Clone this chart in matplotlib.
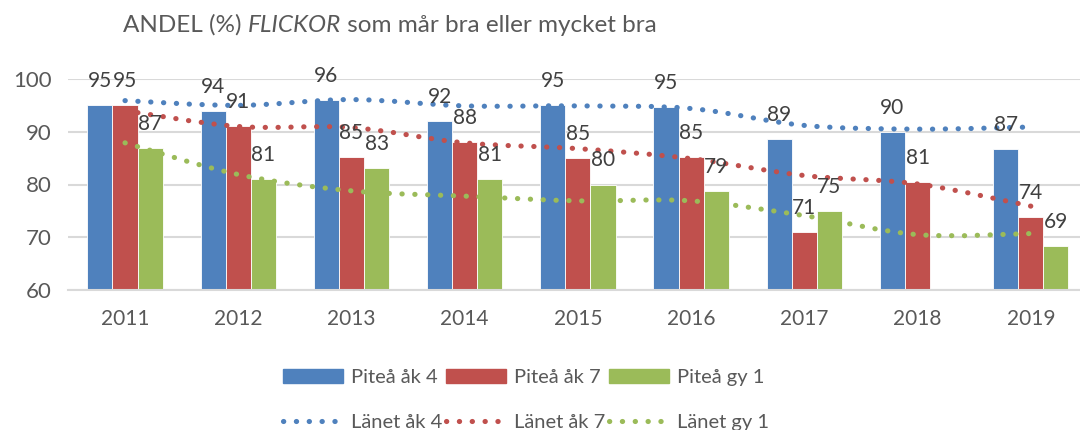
import numpy as np
import matplotlib.pyplot as plt
from matplotlib.path import Path
from matplotlib.patches import PathPatch, Patch
from matplotlib.lines import Line2D
from matplotlib.offsetbox import TextArea, HPacker, AnchoredOffsetbox

plt.rcParams['font.family'] = ['Lato', 'DejaVu Sans']

years = ["2011", "2012", "2013", "2014", "2015", "2016", "2017", "2018", "2019"]

# bar series (Piteå)
pitea_ak4 = [95, 94, 96, 92, 95, 94.7, 88.7, 90, 86.7]
pitea_ak7 = [95, 91, 85.3, 88, 85, 85.3, 71, 80.5, 73.8]
pitea_gy1 = [87, 81, 83.2, 81, 80, 78.7, 74.9, np.nan, 68.4]
lbl_ak4 = ["95", "94", "96", "92", "95", "95", "89", "90", "87"]
lbl_ak7 = ["95", "91", "85", "88", "85", "85", "71", "81", "74"]
lbl_gy1 = ["87", "81", "83", "81", "80", "79", "75", "", "69"]

# county trend lines (Länet)
lanet_ak4 = [95.9, 95.0, 96.1, 94.9, 94.9, 94.4, 91.2, 90.5, 90.9]
lanet_ak7 = [94.0, 91.0, 90.8, 87.9, 86.8, 84.9, 81.7, 80.1, 75.9]
lanet_gy1 = [87.9, 81.9, 78.8, 77.8, 76.9, 76.9, 74.1, 70.5, 70.7]

BLUE, RED, GREEN = "#4F81BD", "#C0504D", "#9BBB59"
TXT = "#595959"


def smooth_path(xs, ys):
    # Excel-like smoothed line: cubic bezier segments, catmull-rom tangents
    pts = np.column_stack([xs, ys])
    verts = [pts[0]]
    codes = [Path.MOVETO]
    n = len(pts)
    for i in range(n - 1):
        p0 = pts[i - 1] if i > 0 else pts[i]
        p1, p2 = pts[i], pts[i + 1]
        p3 = pts[i + 2] if i + 2 < n else pts[i + 1]
        c1 = p1 + (p2 - p0) / 6.0
        c2 = p2 - (p3 - p1) / 6.0
        verts += [c1, c2, p2]
        codes += [Path.CURVE4] * 3
    return Path(verts, codes)


fig = plt.figure(figsize=(10.8, 4.3), dpi=100)
ax = fig.add_axes([68.4 / 1080, 1 - 290 / 430, 1019 / 1080, 211 / 430])

x = np.arange(len(years))
w = 0.222
dot_ls = (0, (0.05, 2.45))

for off, vals, labs, col in [(-w, pitea_ak4, lbl_ak4, BLUE),
                             (0, pitea_ak7, lbl_ak7, RED),
                             (w, pitea_gy1, lbl_gy1, GREEN)]:
    ax.bar(x + off, vals, width=w, bottom=0, color=col, edgecolor="white",
           linewidth=0.6, zorder=2)
    for xi, v, s in zip(x, vals, labs):
        if s:
            ax.annotate(s, (xi + off, v), xytext=(0, 24), textcoords="offset pixels",
                        ha="center", va="center", fontsize=15, color="#404040",
                        annotation_clip=False, zorder=5)

for vals, col in [(lanet_ak4, BLUE), (lanet_ak7, RED), (lanet_gy1, GREEN)]:
    pp = PathPatch(smooth_path(x, vals), fill=False, edgecolor=col, linewidth=3.7,
                   linestyle=dot_ls, capstyle="round", zorder=4)
    ax.add_patch(pp)

ax.set_xlim(-0.5, len(years) - 0.5)
ax.set_ylim(60, 100)
ax.set_yticks([60, 70, 80, 90, 100])
ax.set_xticks(x)
ax.set_xticklabels(years)
ax.yaxis.grid(True, color="#d9d9d9", linewidth=1.5, zorder=0)
ax.set_axisbelow(True)
for sp in ["top", "right", "left"]:
    ax.spines[sp].set_visible(False)
ax.spines["bottom"].set_color("#d9d9d9")
ax.spines["bottom"].set_linewidth(1.5)
ax.tick_params(axis="both", length=0, labelsize=15, labelcolor=TXT)
ax.tick_params(axis="y", labelsize=16, pad=12)
ax.tick_params(axis="x", pad=14)

# title with italic word
parts = [TextArea("ANDEL (%) ", textprops=dict(fontsize=17.5, color=TXT)),
         TextArea("FLICKOR", textprops=dict(fontsize=17.5, color=TXT, style="italic")),
         TextArea(" som mår bra eller mycket bra", textprops=dict(fontsize=17.5, color=TXT))]
title = HPacker(children=parts, pad=0, sep=0, align="baseline")
ab = AnchoredOffsetbox(loc="center left", child=title, pad=0, frameon=False,
                       bbox_to_anchor=(123 / 1080, 1 - 25 / 430),
                       bbox_transform=fig.transFigure, borderpad=0)
fig.add_artist(ab)

handles = [Patch(color=BLUE), Line2D([], [], color=BLUE, lw=3.7, ls=dot_ls, dash_capstyle="round"),
           Patch(color=RED), Line2D([], [], color=RED, lw=3.7, ls=dot_ls, dash_capstyle="round"),
           Patch(color=GREEN), Line2D([], [], color=GREEN, lw=3.7, ls=dot_ls, dash_capstyle="round")]
labels = ["Piteå åk 4", "Länet åk 4", "Piteå åk 7", "Länet åk 7", "Piteå gy 1", "Länet gy 1"]
leg = fig.legend(handles, labels, ncol=3, loc="upper left", bbox_to_anchor=(283 / 1080, 1 - 369 / 430),
                 frameon=False, fontsize=14.5, labelcolor=TXT, handlelength=3.0,
                 handleheight=0.7, handletextpad=0.36, columnspacing=0.2,
                 labelspacing=1.4, borderpad=0, borderaxespad=0)

fig.savefig("out.png", dpi=100)
